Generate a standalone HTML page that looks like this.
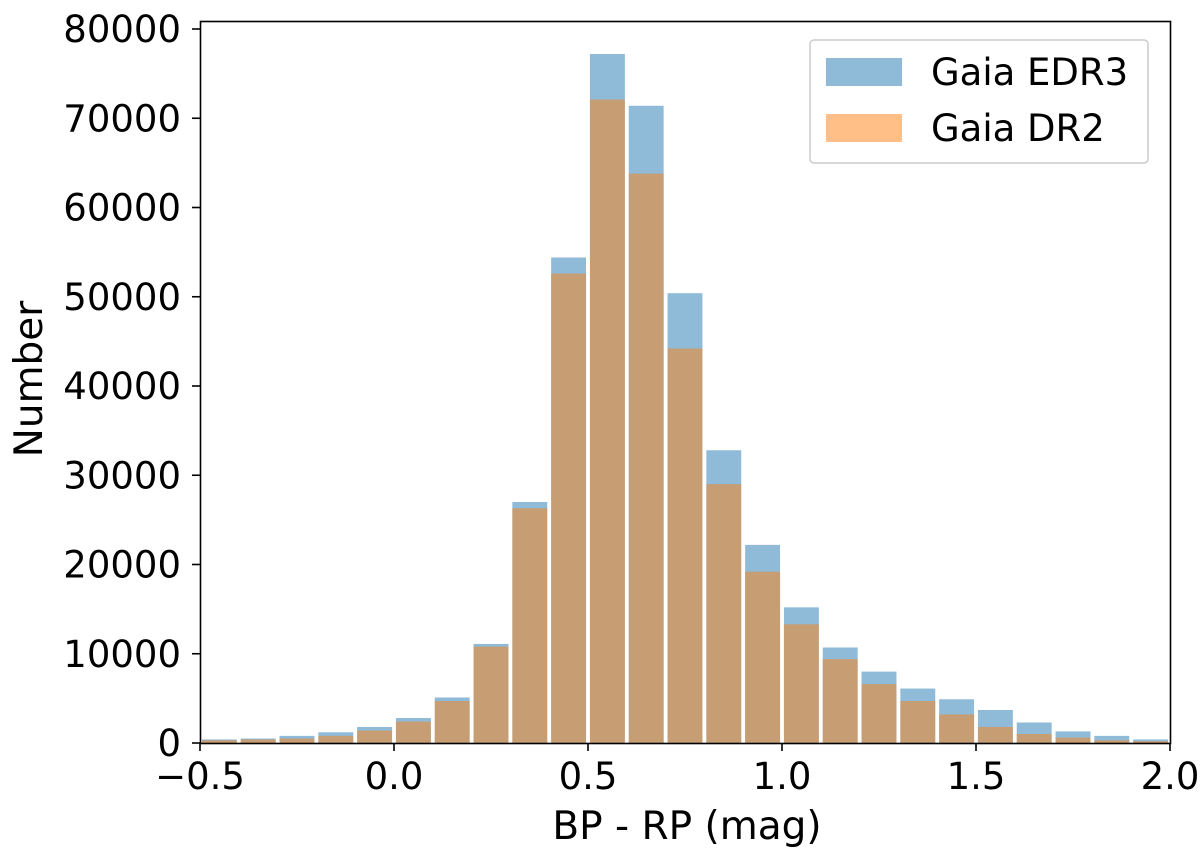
<!DOCTYPE html>
<html><head><meta charset="utf-8"><style>
body{margin:0;background:#fff;width:1200px;height:852px;overflow:hidden}
text{font-family:"DejaVu Sans","Liberation Sans",sans-serif;fill:#000}
</style></head><body>
<svg id="chart" width="1200" height="852" viewBox="0 0 1200 852" xmlns="http://www.w3.org/2000/svg">
<g id="bars"></g>
<rect x="200.5" y="21.5" width="970" height="722" fill="none" stroke="#000" stroke-width="1.6"/>
<g id="xticks"></g>
<g id="yticks"></g>
<text x="687" y="839" font-size="39" text-anchor="middle">BP - RP (mag)</text>
<text transform="translate(42,379) rotate(-90)" font-size="39" text-anchor="middle">Number</text>
<g>
<rect x="810" y="40" width="338" height="123" rx="4" fill="#fff" stroke="#ccc" stroke-width="1.5"/>
<rect x="826" y="58" width="76" height="28" fill="#1f77b4" fill-opacity="0.5"/>
<text x="931" y="85" font-size="37">Gaia EDR3</text>
<rect x="826" y="114" width="76" height="28" fill="#ff7f0e" fill-opacity="0.5"/>
<text x="931" y="141" font-size="37">Gaia DR2</text>
</g>
</svg>
<script>
const binStarts=[-0.5,-0.4,-0.3,-0.2,-0.1,0.0,0.1,0.2,0.3,0.4,0.5,0.6,0.7,0.8,0.9,1.0,1.1,1.2,1.3,1.4,1.5,1.6,1.7,1.8,1.9];
const edr3=[400,500,800,1200,1800,2800,5100,11100,27000,54400,77200,71400,50400,32800,22200,15200,10700,8000,6100,4900,3700,2300,1300,800,400];
const dr2=[300,400,500,800,1400,2400,4700,10800,26300,52600,72100,63800,44200,29000,19200,13300,9400,6600,4700,3200,1800,1000,600,300,200];
const xTicks=[-0.5,0.0,0.5,1.0,1.5,2.0];
const xTickLabels=["\u22120.5","0.0","0.5","1.0","1.5","2.0"];
const yTicks=[0,10000,20000,30000,40000,50000,60000,70000,80000];
const NS="http://www.w3.org/2000/svg";
const X=v=>200+(v+0.5)*388, Y=v=>743-v*0.008925;
const bw=0.1;
const bars=document.getElementById('bars');
function draw(series,color){
 series.forEach((v,i)=>{
  const r=document.createElementNS(NS,'rect');
  const x0=X(binStarts[i]+bw*0.05), x1=X(binStarts[i]+bw*0.95);
  r.setAttribute('x',x0);r.setAttribute('width',x1-x0);
  r.setAttribute('y',Y(v));r.setAttribute('height',Y(0)-Y(v));
  r.setAttribute('fill',color);r.setAttribute('fill-opacity','0.5');
  
  
  bars.appendChild(r);
 });
}
draw(edr3,'#1f77b4');draw(dr2,'#ff7f0e');
const xg=document.getElementById('xticks');
xTicks.forEach((t,i)=>{
 const l=document.createElementNS(NS,'line');
 l.setAttribute('x1',X(t));l.setAttribute('x2',X(t));l.setAttribute('y1',743);l.setAttribute('y2',751);l.setAttribute('stroke','#000');l.setAttribute('stroke-width','1.6');
 
 
 xg.appendChild(l);
 const tx=document.createElementNS(NS,'text');
 tx.setAttribute('x',X(t));tx.setAttribute('y',789);tx.setAttribute('font-size','37');tx.setAttribute('text-anchor','middle');
 tx.textContent=xTickLabels[i];
 
 
 xg.appendChild(tx);
});
const yg=document.getElementById('yticks');
yTicks.forEach(t=>{
 const l=document.createElementNS(NS,'line');
 l.setAttribute('x1',192);l.setAttribute('x2',200);l.setAttribute('y1',Y(t));l.setAttribute('y2',Y(t));l.setAttribute('stroke','#000');l.setAttribute('stroke-width','1.6');
 
 
 yg.appendChild(l);
 const tx=document.createElementNS(NS,'text');
 tx.setAttribute('x',181);tx.setAttribute('y',Y(t)+13);tx.setAttribute('font-size','37');tx.setAttribute('text-anchor','end');
 tx.textContent=String(t);
 
 
 yg.appendChild(tx);
});
</script>
</body></html>
